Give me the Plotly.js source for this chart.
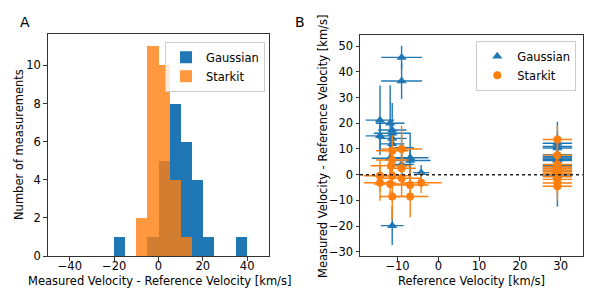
<!DOCTYPE html>
<html>
<head>
<meta charset="utf-8">
<script src="https://cdn.plot.ly/plotly-3.0.1.min.js"></script>
<style>html,body{margin:0;padding:0;background:#fff;}#chart{width:600px;height:300px;}</style>
</head>
<body>
<div id="chart"></div>
<script>
// ---- Panel A: histogram (bin centres, 5 km/s bins) ----
const binCenters = [-17.5, -12.5, -7.5, -2.5, 2.5, 7.5, 12.5, 17.5, 22.5, 27.5, 32.5, 37.5];
const gaussianCounts = [1, 0, 0, 1, 5, 8, 6, 4, 1, 0, 0, 1];
const starkitCounts  = [0, 0, 2, 11, 10, 4, 1, 0, 0, 0, 0, 0];

// ---- Panel B: Gaussian measurements ----
const gRefVel  = [-9.0, -9.0, -14.3, -11.8, -14.3, -11.3, -11.3, -11.3, -11.3, -9.0, -11.8, -6.9, -6.9, -4.2, -11.3, -9.0,
                  29.2, 29.2, 29.2, 29.2, 29.2, 29.2, 29.2, 29.2, 29.2, 29.2, 29.2, 29.2];
const gDiff    = [45.6, 36.4, 21.2, 20.0, 15.1, 17.4, 16.1, 14.1, 12.0, 10.5, 6.4, 6.6, 5.5, 0.8, -19.8, 4.0,
                  12.2, 11.0, 10.4, 7.8, 7.0, 6.5, 6.0, 5.5, 3.5, 2.5, 1.5, -0.5];
const gRefErr  = [5.0, 5.0, 3.5, 3.5, 3.5, 3.5, 4.5, 3.5, 3.0, 3.0, 4.5, 4.5, 5.0, 2.0, 2.8, 3.0,
                  3.6, 3.6, 3.6, 3.6, 3.6, 3.6, 3.6, 3.6, 3.6, 3.6, 3.6, 3.6];
const gDiffErr = [4.5, 7.0, 13.5, 14.8, 6.0, 10.5, 5.0, 5.0, 5.0, 5.0, 6.0, 9.6, 5.0, 3.0, 7.5, 5.0,
                  8.4, 6.0, 5.0, 5.0, 5.0, 5.0, 5.0, 5.0, 5.0, 5.0, 14.0, 5.0];

// ---- Panel B: Starkit measurements ----
const sRefVel  = [-11.3, -9.0, -11.3, -11.6, -9.0, -14.3, -11.3, -14.3, -11.8, -9.0, -6.9, -4.2, -11.3, -6.9,
                  29.2, 29.2, 29.2, 29.2, 29.2, 29.2, 29.2, 29.2, 29.2, 29.2, 29.2, 29.2, 29.2, 29.2];
const sDiff    = [9.3, 10.0, 5.7, 3.5, 2.5, -0.4, -0.4, -3.1, -3.6, -1.4, -4.0, -3.1, -8.5, -8.5,
                  13.7, 7.6, 4.0, 3.2, 2.5, 1.8, 1.2, 0.6, 0.3, 0.1, -0.8, -1.8, -3.2, -4.5];
const sRefErr  = [4.0, 5.0, 4.0, 5.0, 3.5, 4.0, 4.5, 4.0, 4.0, 5.0, 4.5, 5.0, 3.0, 4.5,
                  3.6, 3.6, 3.6, 3.6, 3.6, 3.6, 3.6, 3.6, 3.6, 3.6, 3.6, 3.6, 3.6, 3.6];
const sDiffErr = [6.0, 9.0, 5.0, 5.0, 6.0, 6.0, 5.0, 7.0, 6.0, 7.0, 6.0, 4.0, 9.0, 8.0,
                  5.5, 5.0, 4.0, 4.0, 4.0, 4.0, 4.0, 4.0, 4.0, 4.0, 4.0, 4.0, 4.0, 5.5];

const BLUE = '#1f77b4', ORANGE = '#ff7f0e';
const FONT = 'DejaVu Sans';
const FS = 11.5;

const traces = [
  {type: 'bar', x: binCenters, y: gaussianCounts, width: 5, name: 'Gaussian',
   marker: {color: BLUE, line: {width: 0}}, xaxis: 'x', yaxis: 'y', legend: 'legend'},
  {type: 'bar', x: binCenters, y: starkitCounts, width: 5, name: 'Starkit', opacity: 0.8,
   marker: {color: ORANGE, line: {width: 0}}, xaxis: 'x', yaxis: 'y', legend: 'legend'},
  {type: 'scatter', mode: 'markers', x: gRefVel, y: gDiff, name: 'Gaussian',
   error_x: {type: 'data', array: gRefErr, color: BLUE, thickness: 1.4, width: 0},
   error_y: {type: 'data', array: gDiffErr, color: BLUE, thickness: 1.4, width: 0},
   marker: {symbol: 'triangle-up', size: 9, color: BLUE}, xaxis: 'x2', yaxis: 'y2', legend: 'legend2'},
  {type: 'scatter', mode: 'markers', x: sRefVel, y: sDiff, name: 'Starkit',
   error_x: {type: 'data', array: sRefErr, color: ORANGE, thickness: 1.4, width: 0},
   error_y: {type: 'data', array: sDiffErr, color: ORANGE, thickness: 1.4, width: 0},
   marker: {symbol: 'circle', size: 8, color: ORANGE}, xaxis: 'x2', yaxis: 'y2', legend: 'legend2'}
];

const axisCommon = {
  showline: true, mirror: true, linecolor: '#333', linewidth: 1,
  ticks: 'outside', ticklen: 3.5, tickwidth: 1, tickcolor: '#333',
  showgrid: false, zeroline: false,
  tickfont: {family: FONT, size: FS, color: '#000'}
};

const legendCommon = {
  bgcolor: 'rgba(255,255,255,0.8)', bordercolor: '#cccccc', borderwidth: 1,
  font: {family: FONT, size: FS, color: '#000'},
  xanchor: 'right', yanchor: 'top', itemwidth: 30, tracegroupgap: 0
};

const layout = {
  width: 600, height: 300,
  margin: {l: 0, r: 0, t: 0, b: 0},
  paper_bgcolor: '#fff', plot_bgcolor: '#fff',
  barmode: 'overlay', bargap: 0,
  font: {family: FONT, size: FS, color: '#000'},
  xaxis: Object.assign({}, axisCommon, {domain: [47.7/600, 269.3/600], range: [-50, 50],
    tickvals: [-40, -20, 0, 20, 40], anchor: 'y', ticklabelstandoff: -4}),
  yaxis: Object.assign({}, axisCommon, {domain: [1 - 256/300, 1 - 34/300], range: [0, 11.65],
    tickvals: [0, 2, 4, 6, 8, 10], anchor: 'x'}),
  xaxis2: Object.assign({}, axisCommon, {domain: [360/600, 582.7/600], range: [-19.2, 35.4],
    tickvals: [-10, 0, 10, 20, 30], anchor: 'y2', ticklabelstandoff: -4}),
  yaxis2: Object.assign({}, axisCommon, {domain: [1 - 256/300, 1 - 35/300], range: [-31.6, 54.3],
    tickvals: [-30, -20, -10, 0, 10, 20, 30, 40, 50], anchor: 'x2'}),
  legend: Object.assign({}, legendCommon, {x: 265/600, y: 1 - 41.7/300}),
  legend2: Object.assign({}, legendCommon, {x: 576.3/600, y: 1 - 40.7/300}),
  shapes: [
    {type: 'line', xref: 'x2 domain', yref: 'y2', x0: 0, x1: 1, y0: 0, y1: 0,
     line: {color: '#222', width: 1.5, dash: 'dot'}}
  ],
  annotations: [
    {text: 'A', xref: 'paper', yref: 'paper', x: 25/600, y: 1 - 22/300, showarrow: false,
     xanchor: 'center', yanchor: 'middle', font: {family: FONT, size: 14}},
    {text: 'B', xref: 'paper', yref: 'paper', x: 300/600, y: 1 - 22/300, showarrow: false,
     xanchor: 'center', yanchor: 'middle', font: {family: FONT, size: 14}},
    {text: 'Measured Velocity - Reference Velocity [km/s]', xref: 'paper', yref: 'paper',
     x: 159/600, y: 1 - 281/300, showarrow: false, xanchor: 'center', yanchor: 'middle',
     font: {family: FONT, size: FS}},
    {text: 'Number of measurements', xref: 'paper', yref: 'paper', textangle: -90,
     x: 19/600, y: 1 - 145/300, showarrow: false, xanchor: 'center', yanchor: 'middle',
     font: {family: FONT, size: FS}},
    {text: 'Reference Velocity [km/s]', xref: 'paper', yref: 'paper',
     x: 471.3/600, y: 1 - 281/300, showarrow: false, xanchor: 'center', yanchor: 'middle',
     font: {family: FONT, size: FS}},
    {text: 'Measured Velocity - Reference Velocity [km/s]', xref: 'paper', yref: 'paper', textangle: -90,
     x: 322.3/600, y: 1 - 146.7/300, showarrow: false, xanchor: 'center', yanchor: 'middle',
     font: {family: FONT, size: FS}}
  ]
};

Plotly.newPlot('chart', traces, layout, {displayModeBar: false, staticPlot: true});
</script>
</body>
</html>
